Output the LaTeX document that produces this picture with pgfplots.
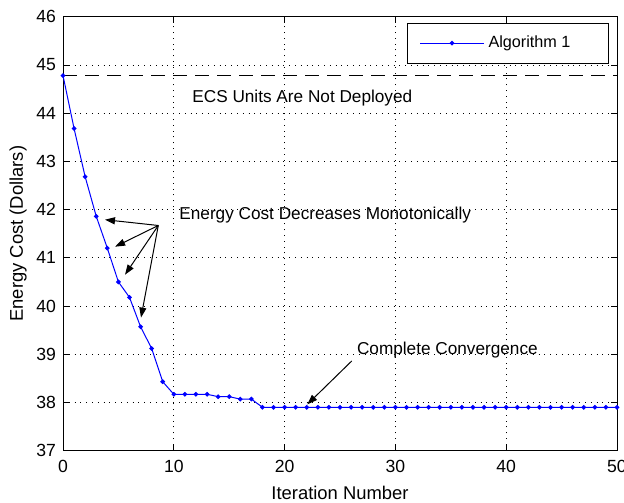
\documentclass[border=0pt]{standalone}
\usepackage{fontspec}
\setmainfont{Liberation Sans}
\usepackage{pgfplots}
\pgfplotsset{compat=1.18}
\usetikzlibrary{arrows.meta}
\begin{document}
\begin{tikzpicture}
\begin{axis}[
  scale only axis, width=277pt, height=217pt,
  xmin=0, xmax=50, ymin=37, ymax=46,
  xtick={0,10,...,50}, ytick={37,38,...,46},
  grid=major,
  major grid style={black, dash pattern=on 0.5pt off 2.4pt, line width=0.4pt},
  tick align=inside, tick pos=both, major tick length=3pt,
  tick style={black, line width=0.4pt},
  axis line style={line width=0.5pt},
  /pgf/number format/assume math mode=true,
  tick label style={font=\fontsize{8.8}{10}\selectfont},
  xticklabel style={yshift=-1pt},
  xlabel={Iteration Number}, ylabel={Energy Cost (Dollars)},
  label style={font=\fontsize{9.2}{11}\selectfont},
  xlabel style={yshift=0pt},
  ylabel style={yshift=-2pt},
  legend style={draw=black, line width=0.5pt, at={(0.9856,0.986)}, anchor=north east,
    inner xsep=6pt, inner ysep=4.25pt,
    font=\fontsize{8.1}{10}\selectfont},
  legend image code/.code={\draw[mark repeat=2, mark phase=2, #1] plot coordinates {(0pt,0pt) (16pt,0pt) (32pt,0pt)};},
]
\addplot[blue, line width=0.5pt, mark=*, mark size=0.9pt] coordinates {
(0,44.78) (1,43.68) (2,42.68) (3,41.86) (4,41.20) (5,40.50) (6,40.18)
(7,39.57) (8,39.12) (9,38.43) (10,38.17) (11,38.17) (12,38.17) (13,38.17)
(14,38.12) (15,38.12) (16,38.07) (17,38.07) (18,37.90) (19,37.90) (20,37.90)
(21,37.90) (22,37.90) (23,37.90) (24,37.90) (25,37.90) (26,37.90) (27,37.90)
(28,37.90) (29,37.90) (30,37.90) (31,37.90) (32,37.90) (33,37.90) (34,37.90)
(35,37.90) (36,37.90) (37,37.90) (38,37.90) (39,37.90) (40,37.90) (41,37.90)
(42,37.90) (43,37.90) (44,37.90) (45,37.90) (46,37.90) (47,37.90) (48,37.90)
(49,37.90) (50,37.90)};
\addlegendentry{\makebox[52pt][l]{Algorithm 1}}
\addplot[black, line width=0.6pt, dash pattern=on 7pt off 4pt, forget plot] coordinates {(0,44.78) (50,44.78)};
\node[font=\fontsize{8.6}{10}\selectfont] at (axis cs:21.6,44.32) {ECS Units Are Not Deployed};
\node[font=\fontsize{8.6}{10}\selectfont, anchor=west, inner sep=0pt] at (axis cs:10.47,41.89) {Energy Cost Decreases Monotonically};
\node[font=\fontsize{8.6}{10}\selectfont, anchor=west, inner sep=0pt] at (axis cs:26.5,39.08) {Complete Convergence};
\draw[-{Triangle[length=5pt,width=3.5pt]}, line width=0.5pt] (axis cs:8.6,41.67) -- (axis cs:3.79,41.79);
\draw[-{Triangle[length=5pt,width=3.5pt]}, line width=0.5pt] (axis cs:8.6,41.67) -- (axis cs:4.7,41.23);
\draw[-{Triangle[length=5pt,width=3.5pt]}, line width=0.5pt] (axis cs:8.6,41.67) -- (axis cs:5.6,40.65);
\draw[-{Triangle[length=5pt,width=3.5pt]}, line width=0.5pt] (axis cs:8.6,41.67) -- (axis cs:7.04,39.76);
\draw[-{Triangle[length=5pt,width=3.5pt]}, line width=0.5pt] (axis cs:26.06,38.86) -- (axis cs:22.05,37.96);
\end{axis}
\path (current axis.south west) ++(-31.5pt,-26pt) coordinate (bbbl);
\path (current axis.north east) ++(3.5pt,8.35pt) coordinate (bbtr);
\pgfresetboundingbox
\useasboundingbox (bbbl) rectangle (bbtr);
\end{tikzpicture}
\end{document}
